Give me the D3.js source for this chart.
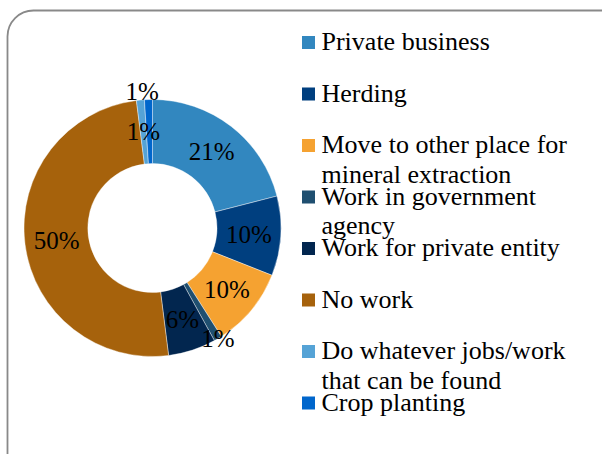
<!DOCTYPE html>
<html>
<head>
<meta charset="utf-8">
<script src="https://cdn.jsdelivr.net/npm/d3@7"></script>
<style>
  html, body { margin: 0; padding: 0; background: #fff; }
  svg { display: block; }
</style>
</head>
<body>
<svg id="chart" width="602" height="454"></svg>
<script>
// Occupation shares (percent), clockwise from 12 o'clock
const categories = [
  "Private business",
  "Herding",
  "Move to other place for mineral extraction",
  "Work in government agency",
  "Work for private entity",
  "No work",
  "Do whatever jobs/work that can be found",
  "Crop planting"
];
const shares = [21, 10, 10, 1, 6, 50, 1, 1];
const sliceColors = ["#3287BF", "#003F7F", "#F5A231", "#1F4F70", "#02264F", "#A6620C", "#55A3D6", "#0066CC"];

// Label placement: radial position as a fraction of the ring (0 = inner, 1 = outer,
// >1 outside) plus an angular nudge (degrees) for the crowded thin slices.
const labelRing = [0.5, 0.5, 0.5, 1.0, 0.5, 0.5, 0.5, 1.13];
const labelNudgeDeg = [0, 0, 0, 0, 0, 0, 0, -2.5];

const FONT = "'Liberation Serif', 'Times New Roman', Times, Tinos, 'DejaVu Serif', serif";

const svg = d3.select("#chart");

// Chart-area frame
svg.append("rect")
  .attr("x", 7.5).attr("y", 10.5)
  .attr("width", 620).attr("height", 470)
  .attr("rx", 26).attr("ry", 26)
  .attr("fill", "#fff")
  .attr("stroke", "#898989")
  .attr("stroke-width", 1.8);

const cx = 152.5, cy = 228;
const outerR = 128.5, innerR = 64.5;

const pie = d3.pie().sort(null).value(d => d.value).startAngle(0).endAngle(2 * Math.PI);
const data = categories.map((c, i) => ({ name: c, value: shares[i], color: sliceColors[i], idx: i }));
const arcs = pie(data);

const arc = d3.arc().innerRadius(innerR).outerRadius(outerR);

const g = svg.append("g").attr("transform", `translate(${cx},${cy})`);

g.selectAll("path.slice")
  .data(arcs)
  .join("path")
  .attr("class", "slice")
  .attr("d", arc)
  .attr("fill", d => d.data.color)
  .attr("stroke", "#fff")
  .attr("stroke-width", 0.4);

// Percentage labels
g.selectAll("text.pct")
  .data(arcs)
  .join("text")
  .attr("class", "pct")
  .attr("font-family", FONT)
  .attr("font-size", 25)
  .attr("fill", "#000")
  .attr("text-anchor", "middle")
  .attr("dy", "0.34em")
  .attr("transform", d => {
    const i = d.data.idx;
    const a = (d.startAngle + d.endAngle) / 2 + labelNudgeDeg[i] * Math.PI / 180;
    const r = innerR + (outerR - innerR) * labelRing[i];
    return `translate(${r * Math.sin(a)},${-r * Math.cos(a)})`;
  })
  .text(d => d.data.value + "%");

// Legend with word-wrapped entries
const legend = svg.append("g");
const legendX = 302, textX = 321.5, firstBaseline = 50, rowStep = 51.5, lineStep = 29.5;
const maxTextWidth = 262;

const measurer = svg.append("text")
  .attr("font-family", FONT).attr("font-size", 26)
  .attr("visibility", "hidden");
function wrap(str) {
  const words = str.split(" ");
  const lines = [];
  let cur = "";
  words.forEach(w => {
    const test = cur ? cur + " " + w : w;
    measurer.text(test);
    if (cur && measurer.node().getComputedTextLength() > maxTextWidth) {
      lines.push(cur);
      cur = w;
    } else {
      cur = test;
    }
  });
  if (cur) lines.push(cur);
  return lines;
}

data.forEach((d, i) => {
  const base = firstBaseline + i * rowStep;
  legend.append("rect")
    .attr("x", legendX).attr("y", base - 14)
    .attr("width", 13).attr("height", 13)
    .attr("fill", d.color);
  const t = legend.append("text")
    .attr("x", textX).attr("y", base)
    .attr("font-family", FONT).attr("font-size", 26)
    .attr("fill", "#000");
  wrap(d.name).forEach((line, k) => {
    t.append("tspan").attr("x", textX).attr("y", base + k * lineStep).text(line);
  });
});
measurer.remove();
</script>
</body>
</html>
